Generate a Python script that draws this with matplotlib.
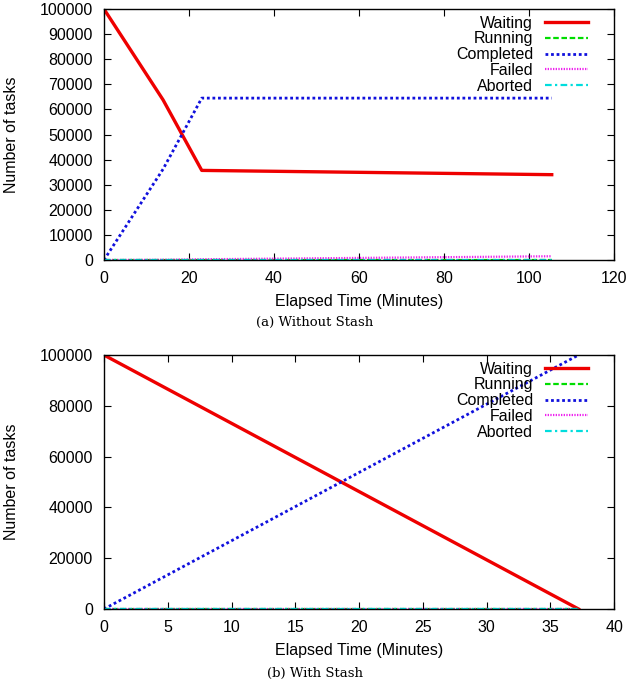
import matplotlib
matplotlib.use("Agg")
import matplotlib.pyplot as plt
from matplotlib.ticker import MultipleLocator

# (a) Without Stash
a_time = [0, 13.9, 23.0, 105.3]
a_waiting = [100000, 63800, 35700, 34000]
a_running = [0, 0, 0, 0]
a_completed = [0, 36200, 64500, 64500]
a_failed = [0, 100, 300, 1500]
a_aborted = [0, 0, 0, 0]

# (b) With Stash
b_time = [0, 37.2]
b_waiting = [100000, 0]
b_running = [0, 0]
b_completed = [0, 100000]
b_failed = [0, 0]
b_aborted = [0, 0]

labels = ["Waiting", "Running", "Completed", "Failed", "Aborted"]

plt.rcParams['font.family'] = ['Liberation Sans', 'DejaVu Sans']
plt.rcParams['font.size'] = 11.5

fig = plt.figure(figsize=(6.3, 6.93), dpi=100)

styles = [
    dict(color='#ee0000', lw=2.4, ls='-'),
    dict(color='#00dd00', lw=1.6, ls=(0, (2.5, 1.2))),
    dict(color='#1010dd', lw=2.0, ls=(0, (1, 1.0))),
    dict(color='#ee22ee', lw=1.6, ls=(0, (0.6, 0.6))),
    dict(color='#00dddd', lw=1.6, ls=(0, (3, 1.5, 1, 1.5))),
]

def draw(ax, t, series, xmax, xstep, ymax, ystep):
    for y, lab, st in zip(series, labels, styles):
        ax.plot(t, y, label=lab, **st)
    ax.set_xlim(0, xmax)
    ax.set_ylim(0, ymax)
    ax.xaxis.set_major_locator(MultipleLocator(xstep))
    ax.yaxis.set_major_locator(MultipleLocator(ystep))
    ax.tick_params(direction='in', top=True, right=True, length=5, labelsize=11.5, pad=8)
    for s in ax.spines.values():
        s.set_linewidth(1.0)
    ax.set_xlabel("Elapsed Time (Minutes)", fontsize=11.5, labelpad=6)
    ax.set_ylabel("Number of tasks", fontsize=11.5, labelpad=15)
    ax.legend(loc='upper right', frameon=False, markerfirst=False,
              handlelength=2.7, handletextpad=0.75, labelspacing=0.05,
              borderaxespad=0.0, borderpad=0.0, fontsize=11.5,
              bbox_to_anchor=(0.949, 0.974))
    return ax

ax1 = fig.add_axes([0.165, 0.6248, 0.810, 0.3622])
draw(ax1, a_time, [a_waiting, a_running, a_completed, a_failed, a_aborted],
     120, 20, 100000, 10000)
ax2 = fig.add_axes([0.165, 0.1212, 0.810, 0.3665])
draw(ax2, b_time, [b_waiting, b_running, b_completed, b_failed, b_aborted],
     40, 5, 100000, 20000)

fig.text(0.5, 1 - 322 / 693, "(a) Without Stash", ha='center', va='center',
         family=['DejaVu Serif'], fontsize=9.5)
fig.text(0.5, 1 - 673 / 693, "(b) With Stash", ha='center', va='center',
         family=['DejaVu Serif'], fontsize=9.5)

fig.savefig("out.png", dpi=100)
